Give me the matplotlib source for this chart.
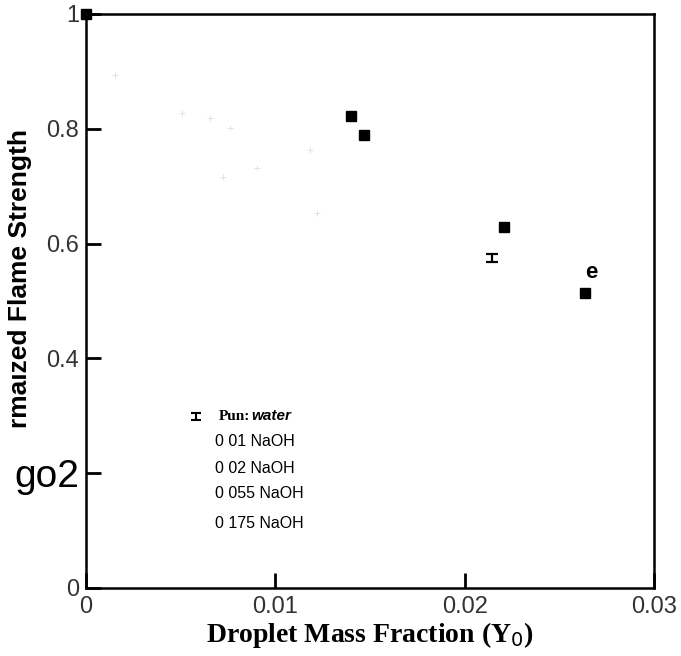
import matplotlib
matplotlib.use("Agg")
import matplotlib.pyplot as plt

# dark squares (NaOH runs, only ones that survived the scan)
sq_x = [0.0, 0.01397, 0.01470, 0.02206, 0.02635]
sq_y = [1.0, 0.822, 0.789, 0.629, 0.514]

# pure water point (error bar "I")
water_x = [0.02143]
water_y = [0.575]
water_err = [0.0065]

# washed-out points from the scan
ghost_x = [0.00153, 0.00508, 0.00656, 0.00762, 0.00905, 0.00725, 0.01185, 0.01222]
ghost_y = [0.894, 0.828, 0.819, 0.801, 0.732, 0.716, 0.763, 0.653]

yticks = [0, 0.2, 0.4, 0.6, 0.8, 1.0]
ytick_labels = ["0", "go2", "0.4", "0.6", "0.8", "1"]
xticks = [0, 0.01, 0.02, 0.03]
xtick_labels = ["0", "0.01", "0.02", "0.03"]
legend_lines = ["0 01 NaOH", "0 02 NaOH", "0 055 NaOH", "0 175 NaOH"]

fig = plt.figure(figsize=(6.81, 6.56), dpi=100)
ax = fig.add_axes([0.1263, 0.1037, 0.8341, 0.875])

ax.plot(ghost_x, ghost_y, linestyle="none", marker="+", ms=4, mew=0.6, color="#dedede")
ax.plot(sq_x, sq_y, linestyle="none", marker="s", ms=7.5, color="black", clip_on=False, zorder=5)
ax.errorbar(water_x, water_y, yerr=water_err, fmt="none", ecolor="black",
            elinewidth=1.6, capsize=4, capthick=1.6)

ax.text(0.02667, 0.549, "e", fontsize=16, fontweight="bold", family="Liberation Sans",
        ha="center", va="center")

ax.set_xlim(0, 0.03)
ax.set_ylim(0, 1)
ax.set_xticks(xticks)
ax.set_xticklabels(xtick_labels)
ax.set_yticks(yticks)
ax.set_yticklabels(ytick_labels)
ax.tick_params(direction="in", length=11, width=2, top=False, right=False)
ax.tick_params(axis="x", pad=6)
ax.tick_params(axis="y", pad=5)
for lab in ax.get_xticklabels() + ax.get_yticklabels():
    lab.set_family("Liberation Sans")
    lab.set_fontsize(17)
    lab.set_color("#333333")
ax.get_yticklabels()[1].set_fontsize(28)
ax.get_yticklabels()[1].set_color("black")
for s in ax.spines.values():
    s.set_linewidth(1.8)

ax.set_xlabel("Droplet Mass Fraction (Y$_0$)", family="Liberation Serif", fontweight="bold",
              fontsize=20, labelpad=1)
fig.text(0.029, 0.576, "rma\u0131zed Flame Strength", rotation=90, family="Liberation Sans",
         fontweight="bold", fontsize=19, ha="center", va="center")

# hand-made legend
lx = 0.0070
ax.errorbar([0.0058], [0.2990], yerr=[0.006], fmt="none", ecolor="black",
            elinewidth=1.5, capsize=3.5, capthick=1.5)
ax.text(lx, 0.2990, "Pun:", family="Liberation Serif", fontweight="bold", fontsize=11,
        va="center", ha="left")
ax.text(lx + 0.00175, 0.2990, "water", family="Liberation Sans", fontweight="bold",
        style="italic", fontsize=11, va="center", ha="left")
legend_y = [0.255, 0.208, 0.164, 0.112]
for t, yy in zip(legend_lines, legend_y):
    ax.text(lx - 0.0002, yy, t, family="Liberation Sans", fontsize=11.5,
            va="center", ha="left")

fig.savefig("out.png", dpi=100, facecolor="white")
